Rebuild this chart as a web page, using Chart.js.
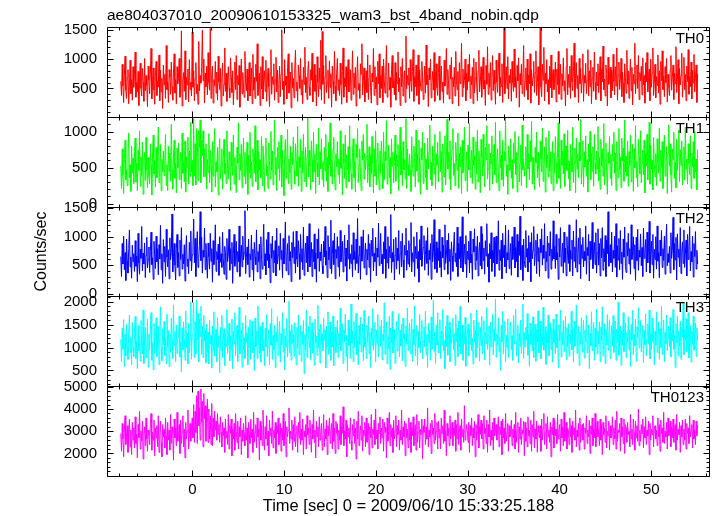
<!DOCTYPE html>
<html><head><meta charset="utf-8">
<script src="https://cdn.jsdelivr.net/npm/chart.js@4/dist/chart.umd.min.js"></script>
<style>html,body{margin:0;padding:0;background:#fff}#wrap{width:717px;height:516px;position:relative}</style>
</head><body><div id="wrap"><canvas id="c" width="717" height="516"></canvas></div>
<script>
const title = "ae804037010_20090610153325_wam3_bst_4band_nobin.qdp";
const xTitle = "Time [sec] 0 = 2009/06/10 15:33:25.188";
const yTitle = "Counts/sec";
const seriesNames = ["TH0", "TH1", "TH2", "TH3", "TH0123"];
const seriesColors = ["#ff0000", "#00ff00", "#0000ff", "#00ffff", "#ff00ff"];
const tStart = -7.8, tEnd = 55.05;
const xRange = [-9.3, 56.4];
const xTicks = [0, 10, 20, 30, 40, 50];
const xMajorStep = 10, xMinorStep = 2;
const yRanges = [[17, 1546], [-41, 1204], [-50, 1530], [155, 2116], [987, 5027]];
const yTicks = [[500, 1000, 1500], [0, 500, 1000], [0, 500, 1000, 1500], [500, 1000, 1500, 2000], [2000, 3000, 4000, 5000]];
const yMajor = [500, 500, 500, 500, 1000];
const yMinor = [100, 100, 100, 100, 200];

const th0 = [
620,380,910,540,260,730,1050,470,330,690,820,240,560,980,410,650,300,870,520,760,
1120,350,600,440,790,210,680,930,500,370,840,610,280,1010,460,720,550,190,880,640,
410,760,1180,320,590,850,470,230,700,960,380,630,520,1070,290,810,440,670,160,900,
560,740,330,1230,480,610,260,820,690,400,950,530,300,780,1090,420,650,240,870,580,
710,1010,350,540,1480,200,620,770,450,1140,310,690,560,830,270,990,480,610,370,1460,
520,800,290,670,940,410,570,230,1300,460,720,590,850,1490,630,1000,250,760,530,880,
390,1110,600,470,1520,330,720,880,250,650,540,960,420,780,300,1050,610,480,840,200,
680,930,370,570,1190,450,760,280,620,870,510,340,1020,690,430,800,220,590,950,480,
1060,310,720,560,890,180,640,1000,410,770,520,350,1130,600,460,830,290,700,940,370,
560,850,240,1080,470,690,330,910,620,1260,380,540,760,210,870,490,1040,320,650,800,
450,980,280,610,840,530,190,760,1160,400,700,570,920,300,650,1030,440,810,260,590,
880,360,740,1500,480,620,230,990,550,710,320,860,1090,420,580,780,170,940,510,670,
340,830,1150,460,610,280,900,720,500,1010,390,650,240,860,570,1200,430,690,310,770,
960,520,380,820,640,1100,270,580,910,450,730,200,1040,600,360,850,490,1320,300,1470,
570,890,240,710,1060,430,600,810,330,970,520,750,180,880,620,410,1130,540,290,760,
1010,470,650,380,930,560,230,790,1190,350,680,530,870,260,720,990,440,610,820,300,
590,1140,400,760,510,860,200,690,1040,470,580,330,920,740,1260,390,640,850,270,560,
800,430,1070,310,680,900,520,250,760,610,1180,380,870,490,700,220,960,580,1090,340,
720,500,880,260,1000,640,420,790,1230,350,560,930,470,690,180,820,1060,510,630,390,
940,300,770,580,1120,440,680,210,870,530,1010,370,610,800,260,1390,490,720,560,850,
330,990,620,450,790,1160,280,700,530,900,380,640,1070,230,820,590,460,960,710,310,
580,880,420,1240,560,730,190,850,650,1000,340,600,790,470,1110,280,690,920,510,380,
770,1050,300,640,880,450,610,250,980,540,730,1180,400,820,590,320,900,660,1030,240,
690,530,860,370,1130,620,480,790,200,940,580,700,1270,360,830,510,640,1000,290,760,
470,910,620,1080,330,710,560,860,240,1010,420,680,950,550,290,800,1150,440,610,870,
350,720,1030,490,640,210,890,570,1210,400,760,520,940,300,670,1060,460,810,580,230,
980,610,430,850,1100,370,690,530,920,260,780,1550,410,640,870,500,1040,320,720,590,
830,280,960,600,450,1170,520,700,340,890,630,1020,180,750,560,910,410,680,1230,360,
620,850,470,1000,310,730,580,1090,250,820,540,690,960,430,770,1140,380,600,870,220,
700,1540,520,360,910,640,1200,290,760,580,990,440,650,230,880,510,1070,340,720,820,
480,610,950,270,830,560,1130,400,690,910,310,750,540,1020,460,630,200,870,1180,390,
740,520,880,330,1060,610,460,790,1270,350,670,940,500,720,260,1010,580,840,420,660,
1090,280,720,590,930,410,640,1160,370,800,530,980,240,690,860,450,1120,600,310,780,
550,920,430,700,1040,290,820,610,1220,480,660,370,900,750,200,1030,570,690,860,340,
810,460,1080,620,390,870,540,1190,300,730,950,480,640,1010,360,780,590,260,920,690,
420,1150,570,800,330,690,1000,460,860,220,740,580,1270,410,650,900,500,1060,310,770,
630,880,390,1020,560,720,250,940,610,1110,440,680,830,290,1000,520,760,1190,380,590,
910,340,700,550,1070,420,800,230,960,630,1140,480,710,360,870,600,1010,270,740,520,
380,820,1060,470,690,900,310,760,580,1210,430,650,990,240,840,560,720,1100,350,610,
1030,480,740,290,880,620,1160,400,700,530,950,320,810,590,1080,440,670,900,260,750
];
const th1 = [
520,210,760,390,140,610,880,330,470,250,690,980,360,540,170,800,420,630,280,720,
910,300,560,180,740,460,1010,240,650,390,850,130,580,710,320,920,470,220,640,380,
270,830,540,120,700,950,410,590,230,780,360,660,1060,290,510,820,180,610,440,730,
390,620,960,250,540,180,800,450,700,310,1100,470,200,660,880,350,560,150,770,500,
840,330,590,710,210,980,420,560,300,870,160,650,500,920,270,730,380,1130,440,600,
250,1180,380,830,260,1040,940,320,1020,780,1160,290,880,660,1010,370,760,380,830,200,
610,430,970,290,740,520,160,860,380,660,1040,230,580,440,780,120,690,900,340,510,
760,200,630,890,410,560,280,1010,470,340,720,600,180,850,520,390,950,270,640,430,
150,780,560,1120,330,690,460,820,220,590,910,380,710,270,500,850,130,670,430,990,
350,580,240,760,640,420,1080,300,540,880,190,720,470,610,360,930,250,800,530,170,
680,910,390,520,210,840,600,340,1000,460,730,260,570,1160,400,640,180,780,490,860,
320,610,950,230,740,470,110,680,890,350,560,1030,280,620,430,800,200,710,540,920,
460,270,830,590,380,1070,240,650,500,890,170,730,420,960,310,580,780,230,640,1200,
370,740,520,190,870,610,300,990,440,690,140,820,560,370,1050,260,720,480,900,330,
580,230,780,450,960,310,640,170,850,540,1120,380,600,270,760,920,420,190,690,510,
860,400,620,280,1010,490,740,120,830,560,350,950,220,680,470,790,300,1080,550,410,
200,710,900,360,580,160,820,640,1040,290,530,760,420,180,870,610,960,340,700,470,
640,1100,290,500,790,230,680,410,930,560,150,760,380,1010,260,620,840,450,190,730,
420,870,560,210,990,330,720,600,1150,270,480,810,360,640,140,900,520,710,290,580,
950,310,680,520,820,180,600,1060,400,730,250,860,470,610,340,1180,210,760,540,390,
690,470,170,930,560,380,800,640,230,1020,450,690,300,880,520,130,770,610,990,280,
510,840,360,620,190,910,480,720,1090,330,570,250,800,660,410,960,200,690,530,850,
300,650,1000,440,720,160,830,570,370,940,260,620,1170,480,710,340,870,190,590,760,
1040,390,560,250,850,620,460,980,210,700,510,790,140,880,430,640,1060,320,550,720,
170,810,470,1110,360,590,740,280,920,530,660,200,860,410,1020,300,730,580,150,890,
640,380,960,520,230,780,610,1080,340,490,830,180,700,550,940,270,610,820,400,1130,
290,570,760,430,180,1010,500,670,330,880,240,720,590,1190,380,540,130,800,650,460,
900,350,610,210,840,560,1000,400,710,160,650,930,300,560,810,250,1090,470,620,380,
530,790,220,960,480,690,330,870,580,1140,270,640,420,190,780,560,990,360,710,480,
230,870,610,440,1050,310,560,790,160,920,500,680,370,1010,450,720,280,610,860,180,
700,420,930,570,280,760,1120,350,620,210,880,530,730,410,970,240,650,800,460,1020,
340,590,180,820,650,440,1060,290,560,770,150,910,480,690,360,850,590,1170,270,520,
870,230,720,510,940,380,610,160,830,580,1000,330,690,450,790,240,960,560,410,730,
480,1070,310,640,200,890,520,760,380,1110,260,600,840,430,130,710,560,930,350,680,
250,820,590,990,420,700,180,860,540,360,1040,470,650,220,910,590,770,310,1160,440,
660,380,870,240,720,530,950,300,610,820,170,760,500,1080,360,580,230,890,650,410,
1010,290,560,740,400,880,150,690,520,960,330,640,1130,270,810,480,600,190,920,560,
370,690,250,900,580,420,1050,310,740,500,860,210,630,950,380,560,790,140,700,1090,
520,830,400,160,760,610,990,350,570,220,890,460,680,1020,300,750,530,870,260,640,
790,330,1060,480,620,270,830,560,400,940,210,700,510,860,350,1000,440,620,190,750
];
const th2 = [
650,300,880,520,1010,420,720,230,960,580,360,790,1120,470,640,270,850,560,700,390,
930,480,660,210,1060,540,340,780,620,1180,400,710,520,890,280,670,990,450,600,820,
370,740,1080,510,630,250,920,690,440,1010,560,790,330,860,610,1200,420,700,180,950,
560,830,300,1130,640,470,770,260,980,590,720,1400,380,650,880,500,240,800,1040,460,
720,310,940,600,1160,430,690,520,860,220,750,1020,480,610,350,900,580,1100,400,680,
820,1310,540,970,300,710,1090,460,620,850,1440,580,990,360,760,640,1150,420,880,540,
270,890,650,430,1060,570,790,200,930,510,680,1210,390,740,600,870,320,1000,550,700,
460,1080,610,340,830,720,250,970,560,680,1130,410,790,530,900,180,710,1040,480,620,
920,380,740,560,1190,300,660,850,470,1010,590,720,1460,350,640,820,510,960,290,700,
590,1030,420,780,220,900,640,510,1120,380,740,560,870,260,1000,600,430,810,1220,490,
700,330,950,580,1080,450,690,190,880,620,1010,370,760,540,930,310,1150,520,680,840,
410,1060,600,760,280,970,520,710,1260,400,650,880,330,1020,570,740,210,900,630,1090,
530,820,360,1100,610,470,930,700,250,1040,560,790,420,1170,320,680,890,540,1010,380,
760,1230,470,640,900,300,780,560,1050,430,710,200,960,620,1140,390,730,580,870,490,
350,920,640,1180,500,750,280,1020,590,820,440,1290,350,690,930,510,1060,260,780,620,
1000,470,830,300,1110,560,720,920,380,650,1030,480,800,220,940,610,1210,430,700,530,
860,290,1070,600,740,410,960,530,1320,360,680,840,250,1000,570,730,1120,450,620,890,
330,780,590,1040,460,880,200,940,660,1150,400,710,560,990,310,800,640,1240,490,720,
1060,520,690,350,910,610,1180,270,780,540,1000,440,830,630,1390,370,720,560,960,240,
680,990,430,800,580,1110,340,700,920,470,1060,590,280,850,680,1150,410,760,520,930,
470,870,1250,380,720,560,1000,300,830,620,1080,440,740,200,950,590,1190,480,670,810,
1020,410,690,930,530,1160,320,760,600,880,250,1040,560,720,1300,430,650,910,370,800,
580,1130,460,740,290,990,630,850,420,1210,530,680,940,340,1060,570,780,230,910,660,
390,820,1080,560,710,470,1170,300,890,610,1000,450,760,1350,380,640,870,520,1020,280,
750,600,920,360,1100,540,690,250,960,730,1140,420,830,580,1010,310,720,900,490,1180,
430,1050,580,800,340,930,660,1230,470,700,200,880,610,1070,390,760,540,990,300,850,
1010,520,690,1280,410,770,580,940,260,1060,630,850,470,1200,360,720,590,1120,440,660,
880,320,1000,600,740,1170,450,810,560,1040,290,920,670,1360,420,700,850,230,960,580,
460,1110,640,790,380,1020,550,900,210,1070,610,760,1180,490,680,940,350,1050,570,810,
300,960,720,1140,500,850,620,1230,400,740,560,1010,270,890,660,1090,430,780,580,1280,
610,830,440,1040,590,720,250,970,640,1160,480,700,890,360,1080,550,800,310,1000,670,
530,1210,390,760,610,940,310,1100,570,820,450,1300,380,700,980,520,1150,260,860,620,
990,470,740,580,1190,340,810,670,1040,220,920,600,760,1250,440,680,900,510,1070,360,
720,1140,500,880,310,970,630,1160,410,790,560,1020,300,940,700,1440,480,650,860,540,
1080,380,760,620,1010,460,1230,290,840,590,970,420,1110,530,730,250,960,640,1170,480,
370,900,660,1060,520,790,340,1210,600,740,1000,440,860,230,990,580,1130,410,760,640,
1050,490,810,300,1150,620,710,950,380,1080,540,830,1270,360,690,920,510,1040,270,780,
600,1000,430,1190,570,720,280,940,660,1110,460,790,580,1010,340,870,1220,490,700,550,
830,360,1070,620,760,1340,420,880,590,990,240,1050,640,780,470,1160,350,720,910,530,
1120,460,690,940,310,1040,600,820,1180,400,740,560,1010,290,880,650,1090,430,760,520
];
const th3 = [
1180,690,1420,960,1610,580,1290,820,1500,1040,740,1360,1710,890,1220,620,1550,1010,800,1330,
1680,760,1140,540,1480,930,1250,700,1590,1080,860,1820,650,1200,1440,780,1010,1620,570,1290,
940,1380,1760,720,1100,510,1530,870,1240,1650,800,1130,1460,620,1320,1890,990,710,1410,1060,
1570,830,1210,650,1730,1000,1370,580,1280,900,1640,1150,760,1930,1040,1350,690,1490,870,1180,
1260,1690,790,1100,470,1430,950,1560,1210,720,1800,1000,1310,640,1520,880,1170,1990,740,1280,
1640,1980,780,1560,860,2040,1170,1750,690,1620,1240,1900,850,1470,780,1700,1150,1380,660,1510,
890,1330,640,1600,1070,1260,550,1470,950,1780,820,1190,1390,690,1650,1010,1250,450,1440,930,
1700,780,1160,1410,600,1290,1020,1830,870,1100,1530,710,1240,950,1620,530,1350,1080,1760,820,
1150,1480,690,1270,1880,860,1060,1390,570,1540,960,1220,760,1700,1110,1310,620,1450,1000,1610,
740,1250,1570,880,1120,490,1640,1020,1360,760,1910,1130,870,1460,680,1290,1550,930,1180,600,
1420,1010,1720,800,1200,1390,620,1520,1050,1850,740,1260,960,1480,560,1340,1110,1670,830,1230,
1570,680,1300,1060,1760,900,1410,510,1260,1010,1630,790,1150,2010,880,1370,720,1500,1090,1280,
810,1540,1180,620,1440,980,1710,840,1230,1480,700,1350,1060,1590,430,1290,950,1820,780,1160,
1460,1000,1690,730,1210,1540,880,1330,610,1620,1110,1250,820,1920,990,1400,660,1510,1070,1300,
930,1640,1150,1380,560,1470,1030,1780,850,1240,1560,720,1330,1010,1690,600,1210,1450,890,1120,
1590,780,1310,1060,1860,930,1180,1520,650,1380,1120,1730,810,1270,480,1600,1040,1420,760,1950,
1100,1360,690,1570,1000,1240,1750,840,1150,620,1480,1070,1660,900,1300,1510,710,1810,1020,1230,
760,1490,1130,1690,870,1330,560,1420,1050,1850,940,1200,1550,680,1380,1090,1720,800,1260,1460,
1020,1600,730,1290,1140,1980,850,1350,1560,640,1250,970,1680,530,1430,1110,1790,880,1170,1400,
650,1320,1580,920,1210,1740,790,1380,1030,1510,710,1640,1190,1300,590,1470,1080,1860,940,1250,
1530,860,1170,1620,700,1400,1060,1910,820,1290,1480,610,1350,1000,1720,890,1220,1590,750,1130,
1450,1010,1790,840,1280,560,1530,1100,1380,720,1670,960,1240,2030,910,1340,650,1490,1060,1760,
880,1210,1610,760,1360,1050,1830,920,1150,540,1460,1020,1700,830,1300,1560,690,1410,1090,1250,
1640,950,1310,610,1720,1130,1420,800,1580,1010,1900,860,1240,1490,720,1350,1080,1660,590,1180,
1290,1510,820,1390,1070,1750,930,1210,640,1600,1120,1370,780,1820,990,1280,1550,700,1440,1040,
1680,870,1240,1590,730,1330,1090,1870,950,1190,1470,620,1560,1010,1260,1720,840,1400,1140,2060,
790,1300,1050,1650,910,1220,500,1480,1120,1790,860,1350,1570,690,1270,1000,1630,780,1190,1420,
1560,940,1260,720,1700,1080,1380,1840,810,1150,1490,660,1320,1030,1600,870,1210,1950,760,1330,
1010,1440,1160,1740,830,1290,590,1530,1070,1370,920,1670,780,1240,1510,700,1390,1120,1800,880,
1230,1580,750,1310,1050,1880,940,1180,1460,630,1350,1090,1710,820,1280,1540,960,1420,680,1620,
1110,1370,860,1730,1000,1260,560,1500,1140,1820,790,1330,1060,1590,910,1200,1680,740,1430,1020,
1520,810,1290,1090,1790,950,1410,680,1570,1030,1250,1930,870,1180,1460,610,1340,1070,1650,900,
1250,1600,770,1380,1120,1710,880,1200,1490,540,1310,1040,1780,930,1270,1550,720,1420,1010,1840,
860,1350,1080,1560,690,1450,1150,1890,810,1230,1520,650,1390,1060,1720,940,1290,1610,760,1180,
1480,1030,1700,890,1260,1580,720,1400,1100,1990,830,1210,1470,610,1360,1050,1760,910,1240,1540,
780,1330,1110,1670,950,1390,580,1500,1160,1810,840,1290,1040,1620,700,1450,1210,1870,990,1270,
1590,900,1240,1480,670,1370,1060,1740,820,1190,1510,1080,1820,750,1300,960,1640,1130,1420,620,
1350,1050,1780,880,1230,1560,740,1410,1000,1900,850,1280,1600,690,1330,1090,1710,930,1200,1470,
1010,1650,790,1320,1140,1830,960,1260,560,1520,1100,1690,820,1370,1030,1580,740,1440,1220,1980,
840,1400,1160,1630,910,1290,1760,770,1180,1490,680,1350,1070,1690,940,1250,1540,800,1430,1150
];
const th0123 = [
2900,2100,3350,2650,1850,3100,3700,2400,2750,3250,2050,2950,3550,2300,3050,1950,3400,2600,3150,2250,
3650,2450,2850,1800,3300,2700,3900,2200,3000,2550,3450,1750,2900,3200,2350,3600,2650,2100,3050,2800,
2400,3350,3800,2150,2950,2600,3500,1900,3150,2700,3250,2300,3700,2050,2850,3450,2500,1850,3300,2750,
3100,2250,3600,2800,1950,3400,2600,3050,2150,3750,2450,3200,2900,1700,3550,2700,3150,2350,3850,2550,
2750,3300,2000,3500,2450,2950,3700,2300,3100,1800,3400,2650,3000,3950,2200,2850,3350,2550,3150,3600,
2700,4200,2500,3900,2950,4600,2450,4800,3250,4050,2600,4900,3400,4350,2300,4700,3550,4150,2550,3850,
4450,2500,4000,2650,3700,2400,4250,2350,3600,2750,3900,3050,3450,2600,3800,2850,3300,2500,3650,2950,
2300,3400,2800,3150,2050,3550,2700,3000,2400,3750,2200,3250,2900,3550,1900,3100,2650,3350,2150,3800,
3000,2500,3450,2200,3200,2750,3600,1950,3050,2550,3350,2850,2350,3700,2600,3150,1800,3400,2950,2450,
3550,2700,3100,2050,3850,2500,2950,3300,2250,3600,2750,3100,1700,3450,2600,3250,2350,3950,2800,2150,
3200,2650,3700,2350,3000,1900,3500,2800,3150,2450,3900,2250,3050,2700,3400,2000,3250,2900,3600,2400,
2800,3350,2100,3150,2600,3800,2350,2950,3450,1850,3200,2750,3050,4050,2450,3000,2650,3500,2150,3300,
2550,3650,2300,2950,3250,2050,3400,2700,3850,2400,3100,2600,3550,1950,3000,2750,3300,2200,3700,2850,
3150,2400,3500,2850,2050,3300,2650,3950,2500,3050,1800,3450,2750,3200,2300,3650,2600,2950,3350,2150,
2700,3750,2300,3100,2650,3500,1950,3250,2800,3600,2450,3000,3350,2200,3800,2550,3150,2000,3450,2900,
3350,2200,3050,2600,3700,2400,3200,2900,4100,2350,3000,2650,3500,1850,3300,2750,3150,2450,3600,2550,
2150,3300,2800,3550,2450,3150,1750,3450,2650,3900,2350,2950,3250,2600,3700,2100,3050,2800,3400,2300,
3600,2500,3000,3350,1950,3200,2700,3750,2250,3100,2850,3500,2400,4000,2650,3050,2200,3350,2900,3650,
2450,3150,2700,3550,2100,3400,2950,3200,1800,3600,2550,3000,3850,2350,3300,2750,3150,2050,3500,2650,
3000,3700,2300,3250,2850,3500,2150,3050,2600,3950,2400,3200,2750,3450,1900,3350,2700,3100,2250,3600,
2600,3400,2050,3150,2800,3650,2350,3000,3300,2150,3750,2500,2950,3450,2250,3100,2850,3550,1750,3250,
2950,3550,2400,3200,2650,4050,2300,3050,2750,3350,2000,3500,2850,3150,2450,3800,2600,3000,3400,2200,
3450,2700,3100,2200,3600,2900,3250,2450,3950,2550,3050,1900,3350,2800,3150,2350,3700,2650,3000,3400,
2350,3150,2800,3500,2100,3300,2650,3850,2400,3000,3250,2150,3550,2750,3100,2500,4150,2600,2900,3300,
3050,2500,3400,2050,3250,2800,3600,2350,3150,2700,3450,1850,3300,2600,3050,3750,2250,3200,2850,3500,
2650,3350,2200,3700,2900,3150,2450,3500,2050,3300,2750,3950,2350,3050,2600,3400,2150,3600,2800,3100,
3300,2600,3050,3650,2300,3200,2850,3450,1950,3550,2700,3150,2450,3800,2550,2950,3350,2100,3250,2750,
2850,3500,2350,3100,2700,3300,2200,3850,2500,3000,3400,2050,3200,2650,3600,2400,3050,2900,3450,1900,
3400,2550,3150,2300,3650,2800,3050,2450,3500,2100,3300,2750,3900,2250,3100,2650,3450,2050,3250,2950,
2700,3250,2100,3550,2600,3150,3800,2400,2950,3350,2200,3650,2750,3050,2500,3400,1850,3200,2850,3600,
2250,3500,2800,3100,2450,3750,2650,3000,3300,2100,3550,2700,3200,2350,3850,2550,2950,3400,2200,3150,
3050,2400,3600,2750,3250,2050,3450,2850,3150,2600,3950,2300,3050,2750,3350,2150,3600,2500,3000,3300,
2600,3350,2200,3150,2900,3700,2450,3050,2750,3500,2000,3250,2850,3600,2350,3100,2700,3800,2300,2950,
3450,2750,3100,2350,3550,2600,3300,1950,3400,2850,3150,2500,3700,2250,3000,2800,3450,2150,3250,2700,
2800,3650,2400,3150,2650,3500,2200,3900,2550,3050,2950,3350,2100,3600,2750,3200,2450,3550,2000,3300,
3150,2500,3400,2850,3000,2300,3750,2650,3100,2400,3550,2950,2150,3450,2700,3250,2550,4000,2350,3050,
2550,3300,2900,3550,2250,3200,2700,3650,2400,3050,2800,3450,1950,3350,2600,3100,2850,3700,2300,3150,
3250,2650,3050,2350,3600,2750,3300,2100,3500,2900,3150,2500,3850,2450,3000,2750,3400,2200,3600,2800,
2950,3450,2300,3200,2700,3550,2500,3050,3300,2150,3750,2600,3100,2850,3400,2050,3250,2750,3500,2400,
3100,2600,3550,2200,3350,2900,3150,2450,3700,2750,3000,3300,2250,3500,2650,3050,2400,3450,2800,3250
];
const series = [th0, th1, th2, th3, th0123];

const FONT = '"Liberation Sans", Arial, Helvetica, sans-serif';
const fmt = v => String(v);

const datasets = series.map((arr, k) => ({
  label: seriesNames[k],
  data: arr.map((v, i) => ({ x: tStart + i * (tEnd - tStart) / (arr.length - 1), y: v })),
  borderColor: seriesColors[k],
  backgroundColor: seriesColors[k],
  borderWidth: 1,
  pointRadius: 0,
  tension: 0,
  fill: false,
  yAxisID: 'y' + k
}));

const scales = {
  x: {
    type: 'linear', position: 'bottom', min: xRange[0], max: xRange[1],
    grid: { display: false, drawTicks: false }, border: { display: false },
    afterBuildTicks: s => { s.ticks = xTicks.map(v => ({ value: v })); },
    ticks: { color: '#000', font: { family: FONT, size: 15 }, padding: 5, maxRotation: 0, autoSkip: false, callback: fmt },
    title: { display: true, text: xTitle, color: '#000', font: { family: FONT, size: 16.5 }, padding: { top: 0, bottom: 0 } },
    afterFit: s => { s.height = 40; }
  }
};
seriesNames.forEach((n, k) => {
  scales['y' + k] = {
    type: 'linear', position: 'left', stack: 'panels', stackWeight: 1, weight: 5 - k,
    min: yRanges[k][0], max: yRanges[k][1],
    grid: { display: false, drawTicks: false }, border: { display: false },
    afterBuildTicks: s => { s.ticks = yTicks[k].map(v => ({ value: v })); },
    ticks: { color: '#000', font: { family: FONT, size: 15 }, padding: 10, autoSkip: false, callback: fmt },
    title: k === 2 ? { display: true, text: yTitle, color: '#000', font: { family: FONT, size: 16 }, padding: { top: 32, bottom: 0 } } : { display: false },
    afterFit: s => { s.width = 107; }
  };
});

const framePlugin = {
  id: 'frame',
  afterDatasetsDraw(chart) {
    const ctx = chart.ctx, xs = chart.scales.x;
    const L = Math.round(chart.chartArea.left) + 0.5, R = Math.round(chart.chartArea.right) - 0.5;
    ctx.save();
    ctx.strokeStyle = '#000';
    ctx.lineWidth = 1;
    seriesNames.forEach((name, k) => {
      const ys = chart.scales['y' + k];
      const T = Math.round(ys.top) + 0.5, B = Math.round(ys.bottom) + 0.5;
      ctx.beginPath();
      ctx.rect(L, T, R - L, B - T);
      for (let v = Math.ceil(xRange[0] / xMinorStep) * xMinorStep; v <= xRange[1]; v += xMinorStep) {
        const px = Math.round(xs.getPixelForValue(v)) + 0.5;
        const len = (Math.abs(v % xMajorStep) < 1e-9) ? 6 : 3;
        ctx.moveTo(px, T); ctx.lineTo(px, T + len);
        ctx.moveTo(px, B); ctx.lineTo(px, B - len);
      }
      const [mn, mx] = yRanges[k];
      const st = yMinor[k];
      for (let v = Math.ceil(mn / st) * st; v <= mx; v += st) {
        const py = Math.round(ys.getPixelForValue(v)) + 0.5;
        const len = (v % yMajor[k] === 0) ? 6 : 3;
        ctx.moveTo(L, py); ctx.lineTo(L + len, py);
        ctx.moveTo(R, py); ctx.lineTo(R - len, py);
      }
      ctx.stroke();
      ctx.fillStyle = '#000';
      ctx.font = '15px ' + FONT;
      ctx.textAlign = 'right';
      ctx.textBaseline = 'alphabetic';
      ctx.fillText(name, 704, ys.top + 16);
    });
    ctx.fillStyle = '#000';
    ctx.font = '15.5px ' + FONT;
    ctx.textAlign = 'left';
    ctx.textBaseline = 'alphabetic';
    ctx.fillText(title, 107, 20);
    ctx.restore();
  }
};

new Chart(document.getElementById('c'), {
  type: 'line',
  data: { datasets },
  options: {
    responsive: false,
    animation: false,
    devicePixelRatio: 1,
    layout: { padding: { top: 27, right: 7, bottom: 0, left: 0 } },
    plugins: { legend: { display: false }, tooltip: { enabled: false }, title: { display: false } },
    scales
  },
  plugins: [framePlugin]
});
</script>
</body></html>
